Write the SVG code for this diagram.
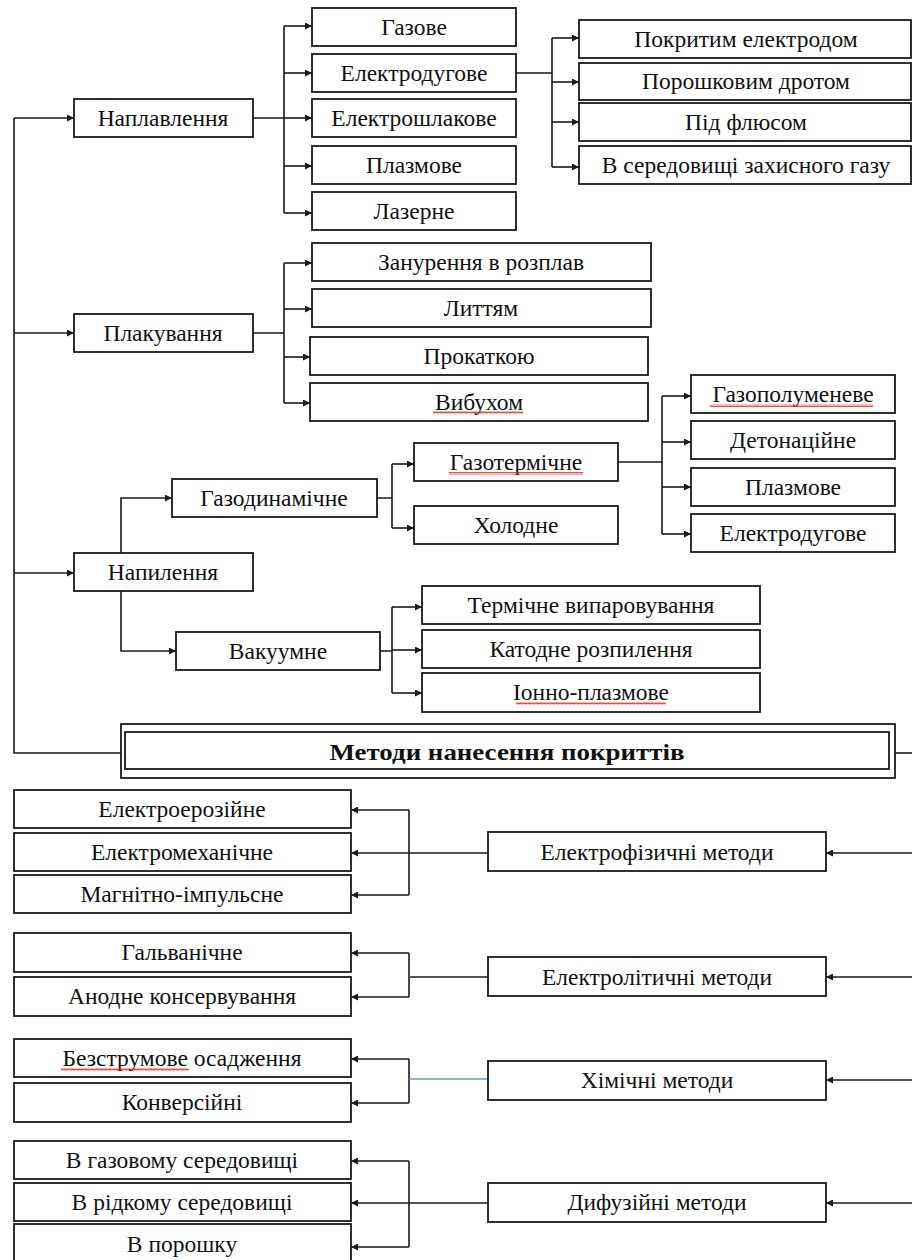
<svg xmlns="http://www.w3.org/2000/svg" width="912" height="1260" viewBox="0 0 912 1260">
<style>
.b{fill:#fff;stroke:#1a1a1a;stroke-width:1.8}
.t{font-family:"Liberation Serif","Times New Roman",serif;font-size:23.5px;fill:#111;text-anchor:middle}
.tt{font-family:"Liberation Serif","Times New Roman",serif;font-size:24px;font-weight:bold;fill:#111;text-anchor:middle}
.c{fill:none;stroke:#1a1a1a;stroke-width:1.6}
.a{marker-end:url(#ar)}
.w{fill:url(#wavy)}
</style>
<defs>
<marker id="ar" viewBox="0 0 10 10" refX="10" refY="5" markerWidth="9" markerHeight="7" markerUnits="userSpaceOnUse" orient="auto">
<path d="M0,0 L10,5 L0,10 z" fill="#1a1a1a"/>
</marker>
<pattern id="wavy" width="4" height="3" patternUnits="userSpaceOnUse">
<path d="M0,2.5 L1,0.5 L2,2.5 L3,0.5 L4,2.5" fill="none" stroke="#e02020" stroke-width="0.8"/>
</pattern>
</defs>
<rect width="912" height="1260" fill="#fff"/>

<g id="connectors">
<path class="c" d="M14,118 V753 H121"/>
<path class="c a" d="M14,118 H74"/>
<path class="c a" d="M14,333 H74"/>
<path class="c a" d="M14,573 H74"/>
<path class="c" d="M253,118 H284 M284,26 V213"/>
<path class="c a" d="M284,26 H312"/>
<path class="c a" d="M284,73 H312"/>
<path class="c a" d="M284,118 H312"/>
<path class="c a" d="M284,166 H312"/>
<path class="c a" d="M284,213 H312"/>
<path class="c" d="M516,73 H552 M552,38 V167"/>
<path class="c a" d="M552,38 H579"/>
<path class="c a" d="M552,82 H579"/>
<path class="c a" d="M552,122 H579"/>
<path class="c a" d="M552,167 H579"/>
<path class="c" d="M253,333 H284 M284,263 V403"/>
<path class="c a" d="M284,263 H312"/>
<path class="c a" d="M284,309 H312"/>
<path class="c a" d="M284,357 H310"/>
<path class="c a" d="M284,403 H310"/>
<path class="c a" d="M121,553 V498 H172"/>
<path class="c a" d="M121,591 V651 H176"/>
<path class="c" d="M377,498 H392 M392,464 V528"/>
<path class="c a" d="M392,464 H414"/>
<path class="c a" d="M392,528 H414"/>
<path class="c" d="M618,462 H662 M662,396 V534"/>
<path class="c a" d="M662,396 H691"/>
<path class="c a" d="M662,442 H691"/>
<path class="c a" d="M662,487 H691"/>
<path class="c a" d="M662,534 H691"/>
<path class="c" d="M380,651 H392 M392,607 V693"/>
<path class="c a" d="M392,607 H422"/>
<path class="c a" d="M392,650 H422"/>
<path class="c a" d="M392,693 H422"/>
<path class="c" d="M895,753 H912"/>
<path class="c a" d="M912,853 H826"/>
<path class="c a" d="M912,977 H826"/>
<path class="c a" d="M912,1080 H826"/>
<path class="c a" d="M912,1203 H826"/>
<path class="c" d="M409,810 V895"/>
<path class="c a" d="M409,810 H351"/>
<path class="c a" d="M488,853 H351"/>
<path class="c a" d="M409,895 H351"/>
<path class="c" d="M409,953 V997"/>
<path d="M488,977 H409" fill="none" stroke="#555" stroke-width="1.8"/>
<path class="c a" d="M409,953 H351"/>
<path class="c a" d="M409,997 H351"/>
<path class="c" d="M409,1059 V1103"/>
<path d="M488,1079 H409" fill="none" stroke="#5b9bd5" stroke-width="1.6"/>
<path class="c a" d="M409,1059 H351"/>
<path class="c a" d="M409,1103 H351"/>
<path class="c" d="M409,1161 V1247"/>
<path class="c a" d="M409,1161 H351"/>
<path class="c a" d="M488,1203 H351"/>
<path class="c a" d="M409,1247 H351"/>
</g>

<g id="n-naplavlennia"><rect class="b" x="74" y="99" width="179" height="38"/><text class="t" x="163" y="126">Наплавлення</text></g>
<g id="n-plakuvannia"><rect class="b" x="74" y="314" width="179" height="38"/><text class="t" x="163" y="341">Плакування</text></g>
<g id="n-napylennia"><rect class="b" x="74" y="553" width="179" height="38"/><text class="t" x="163" y="580">Напилення</text></g>

<g id="n-gazove"><rect class="b" x="312" y="8" width="204" height="38"/><text class="t" x="414" y="35">Газове</text></g>
<g id="n-elektroduhove"><rect class="b" x="312" y="54" width="204" height="38"/><text class="t" x="414" y="81">Електродугове</text></g>
<g id="n-elektroshlakove"><rect class="b" x="312" y="99" width="204" height="38"/><text class="t" x="414" y="126">Електрошлакове</text></g>
<g id="n-plazmove"><rect class="b" x="312" y="146" width="204" height="38"/><text class="t" x="414" y="173">Плазмове</text></g>
<g id="n-lazerne"><rect class="b" x="312" y="192" width="204" height="38"/><text class="t" x="414" y="219">Лазерне</text></g>

<g id="n-pokrytym"><rect class="b" x="579" y="20" width="332" height="38"/><text class="t" x="746" y="47">Покритим електродом</text></g>
<g id="n-poroshkovym"><rect class="b" x="579" y="63" width="332" height="37"/><text class="t" x="746" y="89">Порошковим дротом</text></g>
<g id="n-pid-flusom"><rect class="b" x="579" y="103" width="332" height="38"/><text class="t" x="746" y="130">Під флюсом</text></g>
<g id="n-zakhysnoho"><rect class="b" x="579" y="146" width="332" height="38"/><text class="t" x="746" y="173">В середовищі захисного газу</text></g>

<g id="n-zanurennia"><rect class="b" x="312" y="243" width="339" height="38"/><text class="t" x="481" y="270">Занурення в розплав</text></g>
<g id="n-lyttiam"><rect class="b" x="312" y="289" width="339" height="38"/><text class="t" x="481" y="316">Литтям</text></g>
<g id="n-prokatkoiu"><rect class="b" x="310" y="337" width="338" height="38"/><text class="t" x="479" y="364">Прокаткою</text></g>
<g id="n-vybukhom"><rect class="b" x="310" y="383" width="338" height="38"/><text class="t" x="479" y="410">Вибухом</text><rect class="w" x="433" y="411" width="90" height="3"/></g>

<g id="n-gazodynamichne"><rect class="b" x="172" y="479" width="205" height="38"/><text class="t" x="274" y="506">Газодинамічне</text></g>
<g id="n-vakuumne"><rect class="b" x="176" y="632" width="204" height="38"/><text class="t" x="278" y="659">Вакуумне</text></g>

<g id="n-gazotermichne"><rect class="b" x="414" y="443" width="204" height="38"/><text class="t" x="516" y="470">Газотермічне</text><rect class="w" x="449" y="472" width="134" height="3"/></g>
<g id="n-kholodne"><rect class="b" x="414" y="506" width="204" height="38"/><text class="t" x="516" y="533">Холодне</text></g>

<g id="n-gazopolumeneve"><rect class="b" x="691" y="375" width="204" height="38"/><text class="t" x="793" y="402">Газополуменеве</text><rect class="w" x="710" y="404" width="163" height="3"/></g>
<g id="n-detonatsiine"><rect class="b" x="691" y="421" width="204" height="38"/><text class="t" x="793" y="448">Детонаційне</text></g>
<g id="n-plazmove2"><rect class="b" x="691" y="468" width="204" height="38"/><text class="t" x="793" y="495">Плазмове</text></g>
<g id="n-elektroduhove2"><rect class="b" x="691" y="514" width="204" height="38"/><text class="t" x="793" y="541">Електродугове</text></g>

<g id="n-termichne"><rect class="b" x="422" y="586" width="338" height="38"/><text class="t" x="591" y="613">Термічне випаровування</text></g>
<g id="n-katodne"><rect class="b" x="422" y="630" width="338" height="38"/><text class="t" x="591" y="657">Катодне розпилення</text></g>
<g id="n-ionno"><rect class="b" x="422" y="673" width="338" height="39"/><text class="t" x="591" y="700">Іонно-плазмове</text><rect class="w" x="516" y="702" width="150" height="3"/></g>

<g id="n-main"><rect class="b" x="121" y="724" width="774" height="54"/><rect class="b" x="125" y="732" width="764" height="37"/><text class="tt" x="507" y="760" textLength="355" lengthAdjust="spacingAndGlyphs">Методи нанесення покриттів</text></g>

<g id="n-elektroeroziine"><rect class="b" x="14" y="790" width="337" height="38"/><text class="t" x="182" y="817">Електроерозійне</text></g>
<g id="n-elektromekhanichne"><rect class="b" x="14" y="833" width="337" height="38"/><text class="t" x="182" y="860">Електромеханічне</text></g>
<g id="n-mahnitno"><rect class="b" x="14" y="875" width="337" height="38"/><text class="t" x="182" y="902">Магнітно-імпульсне</text></g>
<g id="n-halvanichne"><rect class="b" x="14" y="933" width="337" height="39"/><text class="t" x="182" y="960">Гальванічне</text></g>
<g id="n-anodne"><rect class="b" x="14" y="977" width="337" height="39"/><text class="t" x="182" y="1004">Анодне консервування</text></g>
<g id="n-bezstrumove"><rect class="b" x="14" y="1039" width="337" height="38"/><text class="t" x="182" y="1066">Безструмове осадження</text><rect class="w" x="61" y="1068" width="128" height="3"/></g>
<g id="n-konversiini"><rect class="b" x="14" y="1083" width="337" height="39"/><text class="t" x="182" y="1110">Конверсійні</text></g>
<g id="n-hazovomu"><rect class="b" x="14" y="1141" width="337" height="38"/><text class="t" x="182" y="1168">В газовому середовищі</text></g>
<g id="n-ridkomu"><rect class="b" x="14" y="1183" width="337" height="38"/><text class="t" x="182" y="1210">В рідкому середовищі</text></g>
<g id="n-poroshku"><rect class="b" x="14" y="1224" width="337" height="40"/><text class="t" x="182" y="1252">В порошку</text></g>

<g id="n-elektrofizychni"><rect class="b" x="488" y="832" width="338" height="39"/><text class="t" x="657" y="860">Електрофізичні методи</text></g>
<g id="n-elektrolitychni"><rect class="b" x="488" y="957" width="338" height="39"/><text class="t" x="657" y="985">Електролітичні методи</text></g>
<g id="n-khimichni"><rect class="b" x="488" y="1061" width="338" height="39"/><text class="t" x="657" y="1088">Хімічні методи</text></g>
<g id="n-dyfuziini"><rect class="b" x="488" y="1183" width="338" height="39"/><text class="t" x="657" y="1210">Дифузійні методи</text></g>
</svg>
